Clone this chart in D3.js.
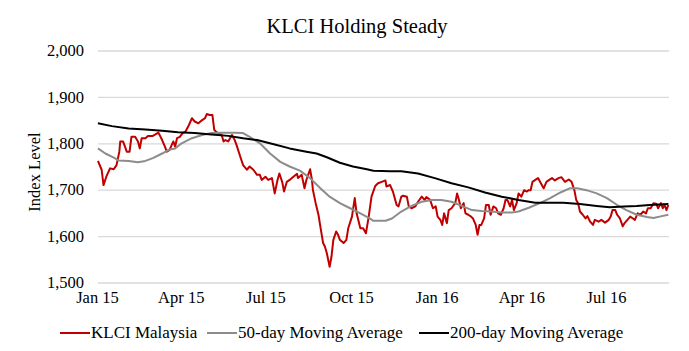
<html>
  <head>
    <title>KLCI Holding Steady</title>
    <script src="https://d3js.org/d3.v7.min.js"></script>
    <style>
      body { margin: 0; background: #fff; }
      text { font-family: "Liberation Serif", "DejaVu Serif", serif; fill: #000; }
    </style>
  </head>
  <body>
    <svg width="689" height="351" id="chart"></svg>
  </body>

  <script type="text/javascript">

    // KLCI Malaysia (daily close)
    var klciDates = ["2015-01-02","2015-01-06","2015-01-08","2015-01-11","2015-01-15","2015-01-19","2015-01-22","2015-01-25","2015-01-26","2015-01-29",
      "2015-02-02","2015-02-05","2015-02-07","2015-02-11","2015-02-14","2015-02-16","2015-02-18","2015-02-22","2015-02-25","2015-03-02",
      "2015-03-08","2015-03-12","2015-03-15","2015-03-17","2015-03-20","2015-03-24","2015-03-26","2015-03-28","2015-03-31","2015-04-03",
      "2015-04-06","2015-04-09","2015-04-13","2015-04-16","2015-04-20","2015-04-24","2015-04-27","2015-04-29","2015-05-02","2015-05-05",
      "2015-05-07","2015-05-09","2015-05-11","2015-05-15","2015-05-17","2015-05-19","2015-05-22","2015-05-26","2015-05-29","2015-05-31",
      "2015-06-04","2015-06-07","2015-06-11","2015-06-14","2015-06-18","2015-06-22","2015-06-25","2015-06-27","2015-07-01","2015-07-04",
      "2015-07-08","2015-07-11","2015-07-14","2015-07-16","2015-07-19","2015-07-21","2015-07-24","2015-07-27","2015-07-31","2015-08-04",
      "2015-08-05","2015-08-09","2015-08-12","2015-08-14","2015-08-18","2015-08-20","2015-08-21","2015-08-24","2015-08-27","2015-08-29",
      "2015-09-01","2015-09-03","2015-09-05","2015-09-08","2015-09-10","2015-09-12","2015-09-15","2015-09-17","2015-09-19","2015-09-23",
      "2015-09-26","2015-09-28","2015-10-02","2015-10-05","2015-10-07","2015-10-11","2015-10-14","2015-10-17","2015-10-20","2015-10-23",
      "2015-10-27","2015-10-30","2015-11-03","2015-11-07","2015-11-08","2015-11-12","2015-11-15","2015-11-19","2015-11-21","2015-11-24",
      "2015-11-26","2015-11-30","2015-12-02","2015-12-05","2015-12-09","2015-12-12","2015-12-16","2015-12-19","2015-12-21","2015-12-25",
      "2015-12-28","2015-12-31","2016-01-02","2016-01-05","2016-01-07","2016-01-09","2016-01-12","2016-01-14","2016-01-17","2016-01-21",
      "2016-01-23","2016-01-25","2016-01-27","2016-01-30","2016-02-01","2016-02-04","2016-02-07","2016-02-09","2016-02-12","2016-02-14",
      "2016-02-16","2016-02-18","2016-02-21","2016-02-23","2016-02-26","2016-02-28","2016-03-02","2016-03-05","2016-03-07","2016-03-10",
      "2016-03-13","2016-03-15","2016-03-17","2016-03-20","2016-03-22","2016-03-24","2016-03-27","2016-03-29","2016-04-01","2016-04-04",
      "2016-04-07","2016-04-09","2016-04-11","2016-04-13","2016-04-16","2016-04-19","2016-04-22","2016-04-25","2016-04-28","2016-05-01",
      "2016-05-04","2016-05-07","2016-05-11","2016-05-14","2016-05-18","2016-05-22","2016-05-25","2016-05-28","2016-05-30","2016-06-01",
      "2016-06-03","2016-06-06","2016-06-09","2016-06-11","2016-06-14","2016-06-17","2016-06-19","2016-06-23","2016-06-26","2016-06-30",
      "2016-07-04","2016-07-06","2016-07-08","2016-07-11","2016-07-13","2016-07-16","2016-07-19","2016-07-21","2016-07-24","2016-07-27",
      "2016-07-30","2016-08-01","2016-08-04","2016-08-07","2016-08-10","2016-08-13","2016-08-15","2016-08-18","2016-08-21","2016-08-24",
      "2016-08-26","2016-08-29","2016-08-31","2016-09-02","2016-09-04","2016-09-06"];
    var klciValues = [1762,1743,1710,1728,1746,1744,1753,1782,1804,1804,
      1782,1782,1814,1814,1804,1789,1811,1811,1816,1816,
      1823,1807,1793,1782,1786,1804,1793,1811,1814,1822,
      1825,1836,1854,1847,1843,1850,1854,1863,1861,1861,
      1829,1825,1822,1818,1804,1807,1804,1818,1807,1796,
      1771,1753,1743,1750,1743,1732,1732,1721,1728,1721,
      1725,1692,1721,1735,1717,1696,1717,1721,1728,1734,
      1725,1732,1703,1721,1744,1721,1700,1671,1646,1621,
      1585,1577,1563,1534,1556,1592,1610,1603,1592,1585,
      1592,1617,1642,1682,1649,1617,1617,1606,1642,1685,
      1708,1714,1717,1720,1707,1710,1696,1667,1664,1685,
      1687,1685,1664,1660,1664,1674,1685,1678,1684,1678,
      1660,1664,1642,1635,1624,1649,1628,1656,1660,1671,
      1692,1678,1660,1671,1649,1646,1642,1638,1624,1603,
      1624,1624,1638,1667,1667,1646,1664,1660,1649,1646,
      1660,1678,1678,1664,1678,1656,1671,1692,1685,1699,
      1696,1699,1699,1717,1721,1725,1714,1703,1717,1721,
      1725,1720,1725,1727,1717,1722,1717,1699,1678,1671,
      1653,1646,1638,1643,1631,1624,1635,1631,1635,1629,
      1635,1642,1656,1656,1646,1638,1621,1628,1635,1642,
      1638,1635,1649,1646,1653,1649,1660,1660,1671,1670,
      1660,1671,1660,1667,1656,1667];

    // 50-day moving average
    var ma50Dates = ["2015-01-02","2015-01-10","2015-01-20","2015-01-24","2015-02-04","2015-02-14","2015-02-22","2015-03-02","2015-03-12","2015-03-19",
      "2015-03-26","2015-04-02","2015-04-13","2015-04-24","2015-05-04","2015-05-15","2015-05-29","2015-06-07","2015-06-14","2015-06-25",
      "2015-07-06","2015-07-17","2015-07-27","2015-08-07","2015-08-18","2015-08-29","2015-09-08","2015-09-19","2015-09-30","2015-10-11",
      "2015-10-21","2015-10-25","2015-11-07","2015-11-14","2015-11-24","2015-12-05","2015-12-16","2015-12-27","2016-01-06","2016-01-17",
      "2016-01-28","2016-02-08","2016-02-18","2016-02-29","2016-03-11","2016-03-22","2016-03-29","2016-04-09","2016-04-21","2016-05-02",
      "2016-05-13","2016-05-23","2016-05-31","2016-06-10","2016-06-21","2016-07-02","2016-07-13","2016-07-23","2016-08-03","2016-08-14",
      "2016-08-21","2016-08-30","2016-09-06"];
    var ma50Values = [1789,1778,1768,1763,1762,1759,1762,1768,1778,1786,
      1789,1800,1811,1818,1822,1823,1823,1822,1814,1800,
      1778,1760,1750,1741,1725,1703,1685,1671,1660,1649,
      1638,1633,1633,1638,1653,1665,1674,1678,1678,1674,
      1665,1656,1654,1653,1651,1651,1653,1661,1671,1682,
      1694,1703,1703,1699,1692,1682,1667,1656,1646,1641,
      1639,1643,1646];

    // 200-day moving average
    var ma200Dates = ["2015-01-02","2015-01-17","2015-02-04","2015-02-22","2015-03-12","2015-03-29","2015-04-16","2015-05-04","2015-05-22","2015-06-07",
      "2015-06-22","2015-07-10","2015-07-27","2015-08-14","2015-08-25","2015-09-05","2015-09-19","2015-10-03","2015-10-18","2015-10-25",
      "2015-11-12","2015-11-24","2015-12-12","2015-12-30","2016-01-17","2016-02-04","2016-02-22","2016-03-11","2016-03-29","2016-04-16",
      "2016-04-28","2016-05-16","2016-06-03","2016-06-21","2016-07-05","2016-07-20","2016-08-03","2016-08-17","2016-09-06"];
    var ma200Values = [1843,1837,1832,1830,1827,1824,1822,1819,1816,1811,
      1807,1798,1789,1782,1778,1770,1758,1750,1744,1741,
      1740,1740,1735,1725,1714,1705,1694,1685,1678,1672,
      1672,1672,1669,1665,1662,1664,1665,1667,1669];

    var yTicks = [1500, 1600, 1700, 1800, 1900, 2000];
    var xTicks = ["2015-01-01","2015-04-01","2015-07-01","2015-10-01","2016-01-01","2016-04-01","2016-07-01"];
    var seriesNames = ["KLCI Malaysia", "50-day Moving Average", "200-day Moving Average"];
    var seriesColors = ["#c00000", "#8c8c8c", "#000000"];

    var parse = d3.timeParse("%Y-%m-%d");
    function zip(dates, values) {
      return dates.map(function(d, i) { return { date: parse(d), value: values[i] }; });
    }
    var series = [zip(klciDates, klciValues), zip(ma50Dates, ma50Values), zip(ma200Dates, ma200Values)];

    var svg = d3.select("#chart");
    var plotLeft = 98, plotRight = 669, plotTop = 50.5, plotBottom = 282.5;

    var x = d3.scaleTime()
      .domain([parse("2015-01-01"), parse("2016-07-01")])
      .range([97, 606]);
    var y = d3.scaleLinear()
      .domain([1500, 2000])
      .range([plotBottom, plotTop]);

    // gridlines + y labels
    var yAxis = svg.append("g")
      .attr("transform", "translate(" + plotLeft + ",0)")
      .call(d3.axisLeft(y).tickValues(yTicks).tickFormat(d3.format(",")).tickSize(-(plotRight - plotLeft)).tickPadding(14));
    yAxis.select(".domain").remove();
    yAxis.selectAll(".tick line").attr("stroke", "#d9d9d9").attr("stroke-width", 1.3);
    yAxis.selectAll(".tick text").attr("font-size", 16.5).style("font-family", null);

    // x labels
    var xAxis = svg.append("g")
      .attr("transform", "translate(0," + plotBottom + ")")
      .call(d3.axisBottom(x).tickValues(xTicks.map(parse)).tickFormat(d3.timeFormat("%b %y")).tickSize(0).tickPadding(9));
    xAxis.select(".domain").remove();
    xAxis.selectAll(".tick text").attr("font-size", 16.5).style("font-family", null);

    var line = d3.line()
      .x(function(d) { return x(d.date); })
      .y(function(d) { return y(d.value); });

    series.forEach(function(s, i) {
      svg.append("path")
        .attr("d", line(s))
        .attr("fill", "none")
        .attr("stroke", seriesColors[i])
        .attr("stroke-width", 2)
        .attr("stroke-linejoin", "round");
    });

    // title
    svg.append("text")
      .attr("x", 357).attr("y", 33)
      .attr("text-anchor", "middle")
      .attr("font-size", 20.5)
      .text("KLCI Holding Steady");

    // y axis title
    svg.append("text")
      .attr("transform", "translate(40,172) rotate(-90)")
      .attr("text-anchor", "middle")
      .attr("font-size", 16.5)
      .text("Index Level");

    // legend
    var legendX = [60, 207, 419];
    var legend = svg.append("g");
    seriesNames.forEach(function(name, i) {
      legend.append("line")
        .attr("x1", legendX[i]).attr("x2", legendX[i] + 30)
        .attr("y1", 333).attr("y2", 333)
        .attr("stroke", seriesColors[i])
        .attr("stroke-width", 2);
      legend.append("text")
        .attr("x", legendX[i] + 31).attr("y", 338)
        .attr("font-size", 17)
        .text(name);
    });

  </script>
</html>
